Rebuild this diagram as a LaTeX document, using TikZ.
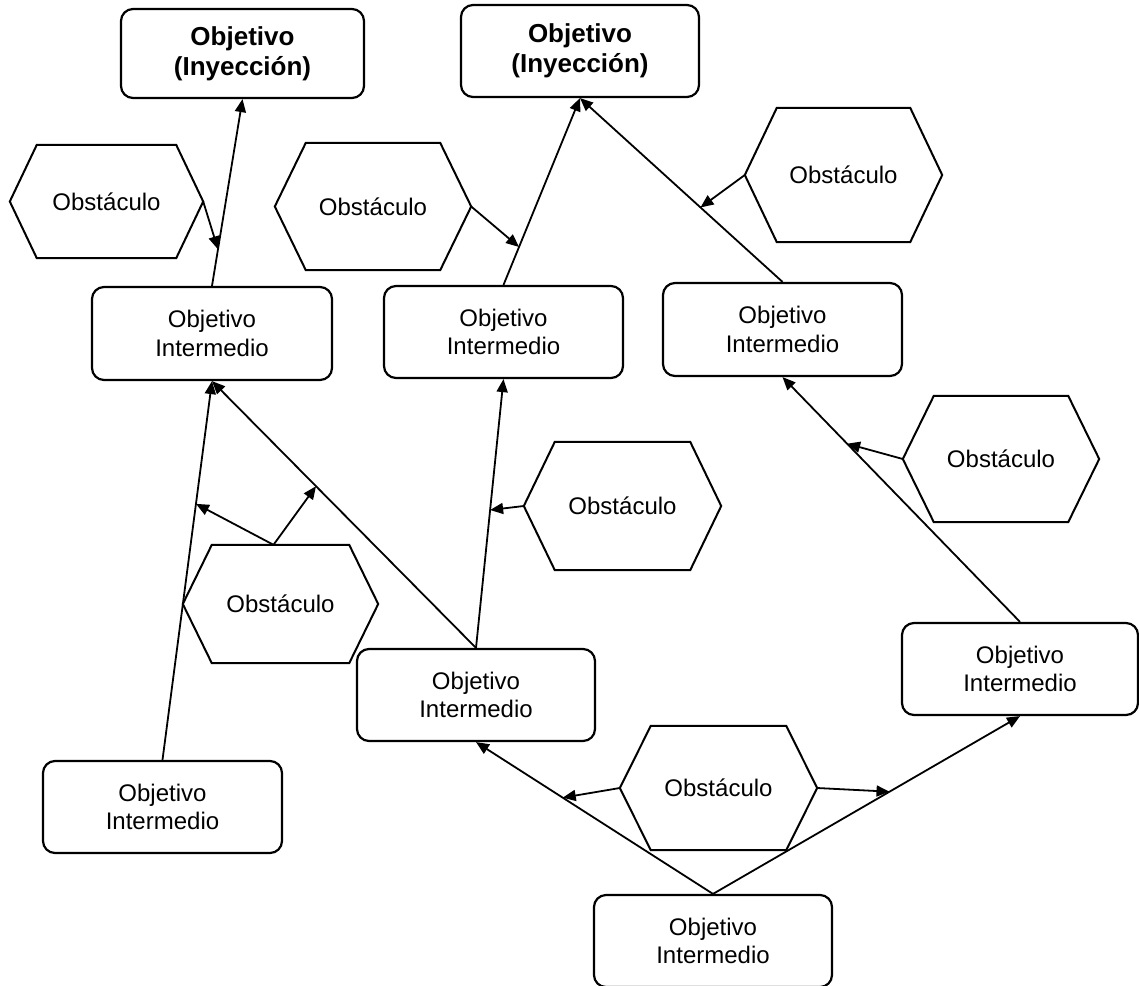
\documentclass[tikz,border=0pt]{standalone}
\usepackage{fontspec}
\setmainfont{Liberation Sans}
\usetikzlibrary{arrows.meta,calc}

% outline of an obstacle hexagon around a (borderless) node
\newcommand\hexoutline[2]{%
  \draw[hexline] ($(#1.north west)+(#2,0)$) -- ($(#1.north east)+(-#2,0)$)
    -- (#1.east) -- ($(#1.south east)+(-#2,0)$)
    -- ($(#1.south west)+(#2,0)$) -- (#1.west) -- cycle;}

\tikzset{
  goal/.style={draw, rectangle, rounded corners=12pt, line width=2.2pt,
    align=center, inner sep=0pt, minimum width=239pt, minimum height=92pt,
    font=\fontsize{24}{28.5}\selectfont},
  target/.style={goal, font=\fontsize{26}{30}\selectfont\bfseries},
  obst/.style={rectangle, inner sep=0pt, minimum width=196pt,
    font=\fontsize{24}{28.5}\selectfont},
  hexline/.style={line width=2pt, line join=miter},
  conn/.style={line width=1.8pt, -{Triangle[length=13pt,width=11pt]}},
  link/.style={line width=1.8pt}
}

\begin{document}
\begin{tikzpicture}[x=1pt, y=-1pt]
\useasboundingbox (0,0) rectangle (1139,985);

% goals
\node[target, minimum width=243pt, minimum height=89pt] (top1) at (242.5,53.5) {Objetivo\\(Inyección)};
\node[target, minimum width=238pt] (top2) at (580,51) {Objetivo\\(Inyección)};

\node[goal, minimum width=240pt, minimum height=93pt] (oi1) at (212,333.5) {Objetivo\\Intermedio};
\node[goal] (oi2) at (503.5,332) {Objetivo\\Intermedio};
\node[goal, minimum height=93pt] (oi3) at (782.5,329.5) {Objetivo\\Intermedio};
\node[goal, minimum width=238pt] (oi4) at (476,695) {Objetivo\\Intermedio};
\node[goal, minimum width=236pt] (oi5) at (1020,669) {Objetivo\\Intermedio};
\node[goal] (oi6) at (162.5,807) {Objetivo\\Intermedio};
\node[goal, minimum width=238pt] (oi7) at (713,941) {Objetivo\\Intermedio};

% obstacles
\node[obst, minimum width=193pt, minimum height=113pt] (h1) at (106.5,201.5) {Obstáculo};
\node[obst, minimum height=127pt] (h2) at (373,206.5) {Obstáculo};
\node[obst, minimum width=197pt, minimum height=134pt] (h3) at (843.5,175) {Obstáculo};
\node[obst, minimum height=126pt] (h4) at (1001,459) {Obstáculo};
\node[obst, minimum width=197pt, minimum height=128pt] (h5) at (622.5,506) {Obstáculo};
\node[obst, minimum width=195pt, minimum height=118pt] (h6) at (280.5,604) {Obstáculo};
\node[obst, minimum width=197pt, minimum height=124pt] (h7) at (718.5,788) {Obstáculo};

\hexoutline{h1}{27}
\hexoutline{h2}{31}
\hexoutline{h3}{32}
\hexoutline{h4}{31}
\hexoutline{h5}{31}
\hexoutline{h6}{29}
\hexoutline{h7}{31}

% goal connectors
\draw[conn] (oi1.north) -- (top1.south) coordinate[pos=0.196] (m1);
\draw[conn] (oi2.north) -- (top2.south) coordinate[pos=0.203] (m2);
\draw[conn] (oi3.north) -- (top2.south) coordinate[pos=0.405] (m3);
\draw[conn] (oi6.north) -- (oi1.south) coordinate[pos=0.676] (m6a);
\draw[conn] (oi4.north) -- (oi1.south) coordinate[pos=0.606] (m6b);
\draw[conn] (oi4.north) -- (oi2.south) coordinate[pos=0.513] (m5);
\draw[conn] (oi5.north) -- (oi3.south) coordinate[pos=0.728] (m4);
\draw[conn] (oi7.north) -- (oi4.south) coordinate[pos=0.634] (m7a);
\draw[conn] (oi7.north) -- (oi5.south) coordinate[pos=0.575] (m7b);

% obstacle connectors
\draw[conn] (h1.east) -- (m1);
\draw[conn] (h2.east) -- (m2);
\draw[conn] (h3.west) -- (m3);
\draw[conn] (h4.west) -- (m4);
\draw[conn] (h5.west) -- (m5);
\draw[conn] ($(h6.north)+(-7,0)$) -- (m6a);
\draw[conn] ($(h6.north)+(-7,0)$) -- (m6b);
\draw[conn] (h7.west) -- (m7a);
\draw[conn] (h7.east) -- (m7b);
\end{tikzpicture}
\end{document}
